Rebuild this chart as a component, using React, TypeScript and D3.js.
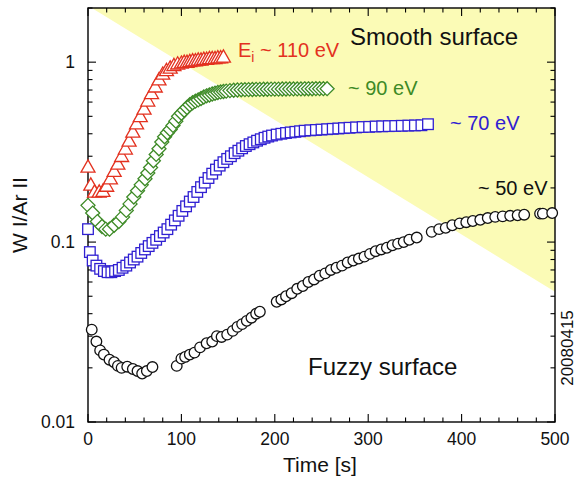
import React from "react";
import * as d3 from "d3";

const xTickValues = [0, 100, 200, 300, 400, 500];
const yTickValues = [0.01, 0.1, 1];
const yTickLabels = ["0.01", "0.1", "1"];

// Ei ~ 110 eV (triangles)
const redT = [0, 3, 7, 12, 16, 20, 24, 28, 32, 36, 40, 44, 48, 52, 56, 60, 64, 68, 72, 76, 80, 84, 88, 92, 96, 100, 103, 106, 109, 112, 115, 118, 121, 124, 127, 130, 133, 136, 139, 142, 145];
const redY = [0.262, 0.208, 0.19, 0.19, 0.192, 0.205, 0.225, 0.248, 0.272, 0.3, 0.33, 0.365, 0.41, 0.455, 0.5, 0.55, 0.61, 0.67, 0.73, 0.8, 0.86, 0.9, 0.93, 0.96, 0.98, 0.99, 1.0, 1.0, 1.01, 1.02, 1.02, 1.03, 1.03, 1.04, 1.04, 1.05, 1.05, 1.05, 1.06, 1.06, 1.07];

// ~90 eV (diamonds)
const greenT = [0, 5, 10, 15, 19, 23, 28, 33, 37, 41, 45, 49, 53, 57, 61, 64, 67, 70, 73, 76, 79, 82, 85, 88, 91, 94, 97, 100, 103, 106, 109, 112, 115, 118, 121, 124, 127, 130, 133, 136, 139, 142, 145, 148, 152, 156, 160, 164, 168, 172, 176, 180, 184, 188, 192, 196, 200, 204, 208, 212, 216, 220, 224, 228, 232, 236, 240, 244, 248, 252, 256];
const greenY = [0.16, 0.145, 0.13, 0.122, 0.118, 0.118, 0.124, 0.13, 0.138, 0.15, 0.163, 0.178, 0.193, 0.208, 0.225, 0.242, 0.26, 0.283, 0.307, 0.33, 0.36, 0.385, 0.405, 0.422, 0.445, 0.47, 0.5, 0.52, 0.54, 0.56, 0.58, 0.595, 0.607, 0.617, 0.628, 0.64, 0.65, 0.657, 0.665, 0.672, 0.678, 0.683, 0.687, 0.69, 0.695, 0.698, 0.7, 0.702, 0.703, 0.704, 0.705, 0.706, 0.706, 0.707, 0.707, 0.708, 0.708, 0.708, 0.709, 0.709, 0.71, 0.71, 0.71, 0.71, 0.711, 0.711, 0.711, 0.712, 0.712, 0.712, 0.712];

// ~70 eV (squares)
const blueT = [0, 2, 5, 9, 13, 17, 21, 25, 29, 33, 37, 41, 45, 49, 53, 57, 61, 65, 69, 73, 77, 81, 85, 89, 93, 97, 101, 105, 109, 113, 117, 121, 125, 129, 133, 137, 141, 145, 149, 153, 157, 161, 165, 169, 173, 177, 181, 185, 189, 193, 197, 202, 207, 212, 217, 222, 227, 232, 238, 244, 250, 256, 262, 268, 274, 280, 287, 294, 301, 308, 315, 322, 329, 336, 343, 350, 357, 364];
const blueY = [0.118, 0.088, 0.079, 0.074, 0.071, 0.069, 0.068, 0.068, 0.069, 0.07, 0.072, 0.074, 0.077, 0.08, 0.083, 0.087, 0.091, 0.095, 0.099, 0.103, 0.108, 0.113, 0.118, 0.125, 0.132, 0.14, 0.149, 0.158, 0.168, 0.178, 0.19, 0.202, 0.214, 0.227, 0.24, 0.253, 0.266, 0.278, 0.29, 0.3, 0.312, 0.322, 0.332, 0.342, 0.35, 0.358, 0.366, 0.373, 0.38, 0.386, 0.391, 0.396, 0.4, 0.404, 0.407, 0.41, 0.413, 0.416, 0.418, 0.42, 0.422, 0.424, 0.426, 0.428, 0.43, 0.432, 0.434, 0.436, 0.437, 0.439, 0.44, 0.441, 0.442, 0.443, 0.444, 0.445, 0.446, 0.452];

// ~50 eV (circles)
const blackT = [4, 9, 13, 17, 23, 28, 32, 36, 42, 48, 53, 58, 63, 69, 95, 100, 104, 109, 114, 120, 127, 133, 138, 143, 149, 155, 160, 165, 170, 175, 180, 184, 202, 207, 212, 218, 224, 230, 236, 242, 248, 254, 260, 266, 272, 278, 284, 290, 296, 302, 308, 314, 320, 326, 332, 338, 344, 352, 368, 376, 383, 390, 398, 405, 412, 420, 428, 436, 444, 452, 460, 467, 484, 487, 497];
const blackY = [0.0326, 0.028, 0.025, 0.0237, 0.0222, 0.0215, 0.0205, 0.02, 0.0203, 0.0197, 0.0192, 0.0186, 0.0192, 0.0202, 0.0205, 0.0225, 0.023, 0.0237, 0.0243, 0.026, 0.0274, 0.028, 0.03, 0.0297, 0.0306, 0.0321, 0.0338, 0.035, 0.0365, 0.038, 0.04, 0.041, 0.0466, 0.048, 0.05, 0.052, 0.055, 0.057, 0.06, 0.062, 0.065, 0.067, 0.07, 0.072, 0.074, 0.077, 0.079, 0.081, 0.083, 0.086, 0.089, 0.091, 0.093, 0.096, 0.098, 0.1, 0.103, 0.106, 0.114, 0.118, 0.12, 0.124, 0.127, 0.129, 0.131, 0.133, 0.136, 0.138, 0.139, 0.14, 0.141, 0.142, 0.144, 0.144, 0.145];

// smooth-surface region (triangle)
const regionT = [4, 500, 500];
const regionY = [2, 2, 0.053];

const RED = "#e3311f";
const GREEN = "#3d8a26";
const BLUE = "#3020d2";
const FONT = "'Liberation Sans', Arial, sans-serif";

export default function App() {
  const W = 576, H = 483;
  const L = 88, R = 555, T = 8, B = 422;
  const x = d3.scaleLinear().domain([0, 500]).range([L, R]);
  const y = d3.scaleLog().domain([0.01, 2]).range([B, T]);

  const xMinor = d3.range(0, 501, 20).filter((v) => v % 100 !== 0);
  const yMinor: number[] = [];
  [0.01, 0.1, 1].forEach((d) => {
    for (let k = 2; k <= 9; k++) {
      const v = k * d;
      if (v <= 2.0001) yMinor.push(v);
    }
  });

  const region = regionT.map((t, i) => `${x(t)},${y(regionY[i])}`).join(" ");

  const triPath = (cx: number, cy: number) => {
    const s = 7;
    return `M${cx},${cy - s}L${cx + s},${cy + s * 0.75}L${cx - s},${cy + s * 0.75}Z`;
  };
  const diaPath = (cx: number, cy: number) => {
    const s = 7;
    return `M${cx},${cy - s}L${cx + s},${cy}L${cx},${cy + s}L${cx - s},${cy}Z`;
  };

  const majLen = 8, minLen = 4.5;
  const sw = 1.3;

  return (
    <svg width={W} height={H} style={{ display: "block", position: "absolute", left: 0, top: 0 }} fontFamily={FONT}>
      <rect x={0} y={0} width={W} height={H} fill="#fff" />
      <defs>
        <clipPath id="plotclip">
          <rect x={L} y={T} width={R - L} height={B - T} />
        </clipPath>
      </defs>
      <polygon points={region} fill="#fbfbb6" clipPath="url(#plotclip)" />

      {/* ticks */}
      <g stroke="#000" strokeWidth={1.1}>
        {xTickValues.map((v) => (
          <g key={"xm" + v}>
            <line x1={x(v)} x2={x(v)} y1={B} y2={B - majLen} />
            <line x1={x(v)} x2={x(v)} y1={T} y2={T + majLen} />
          </g>
        ))}
        {xMinor.map((v) => (
          <g key={"xn" + v}>
            <line x1={x(v)} x2={x(v)} y1={B} y2={B - minLen} />
            <line x1={x(v)} x2={x(v)} y1={T} y2={T + minLen} />
          </g>
        ))}
        {yTickValues.map((v) => (
          <g key={"ym" + v}>
            <line x1={L} x2={L + majLen} y1={y(v)} y2={y(v)} />
            <line x1={R} x2={R - majLen} y1={y(v)} y2={y(v)} />
          </g>
        ))}
        {yMinor.map((v) => (
          <g key={"yn" + v}>
            <line x1={L} x2={L + minLen} y1={y(v)} y2={y(v)} />
            <line x1={R} x2={R - minLen} y1={y(v)} y2={y(v)} />
          </g>
        ))}
      </g>
      <rect x={L} y={T} width={R - L} height={B - T} fill="none" stroke="#000" strokeWidth={1.4} />

      {/* tick labels */}
      <g fontSize={17.5} fill="#111">
        {xTickValues.map((v) => (
          <text key={"xl" + v} x={x(v)} y={445} textAnchor="middle">{v}</text>
        ))}
        {yTickValues.map((v, i) => (
          <text key={"yl" + v} x={75} y={y(v) + 6} textAnchor="end">{yTickLabels[i]}</text>
        ))}
      </g>

      {/* axis titles */}
      <text x={320} y={472} textAnchor="middle" fontSize={21} fill="#111">Time [s]</text>
      <text transform={`translate(27,${(T + B) / 2}) rotate(-90)`} textAnchor="middle" fontSize={21} fill="#111">W I/Ar II</text>
      <text transform={`translate(573,348) rotate(-90)`} textAnchor="middle" fontSize={17} fill="#111">20080415</text>

      {/* series */}
      <g fill="#fff" stroke="#111" strokeWidth={sw}>
        {blackT.map((t, i) => (
          <circle key={"k" + i} cx={x(t)} cy={y(blackY[i])} r={5.3} />
        ))}
      </g>
      <g fill="#fff" stroke={BLUE} strokeWidth={sw}>
        {blueT.map((t, i) => (
          <rect key={"b" + i} x={x(t) - 5.3} y={y(blueY[i]) - 5.3} width={10.6} height={10.6} />
        ))}
      </g>
      <g fill="#fff" stroke={GREEN} strokeWidth={sw}>
        {greenT.map((t, i) => (
          <path key={"g" + i} d={diaPath(x(t), y(greenY[i]))} />
        ))}
      </g>
      <g fill="#fff" stroke={RED} strokeWidth={sw}>
        {redT.map((t, i) => (
          <path key={"r" + i} d={triPath(x(t), y(redY[i]))} />
        ))}
      </g>

      {/* annotations */}
      <text x={350} y={45} fontSize={24} fill="#111">Smooth surface</text>
      <text x={308} y={375} fontSize={24} fill="#111">Fuzzy surface</text>
      <text x={238} y={57} fontSize={20} fill={RED}>
        E<tspan fontSize={14} dy={5}>i</tspan><tspan dy={-5}> ~ 110 eV</tspan>
      </text>
      <text x={348} y={95} fontSize={20} fill={GREEN}>~ 90 eV</text>
      <text x={450} y={130} fontSize={20} fill={BLUE}>~ 70 eV</text>
      <text x={478} y={195} fontSize={20} fill="#111">~ 50 eV</text>
    </svg>
  );
}
